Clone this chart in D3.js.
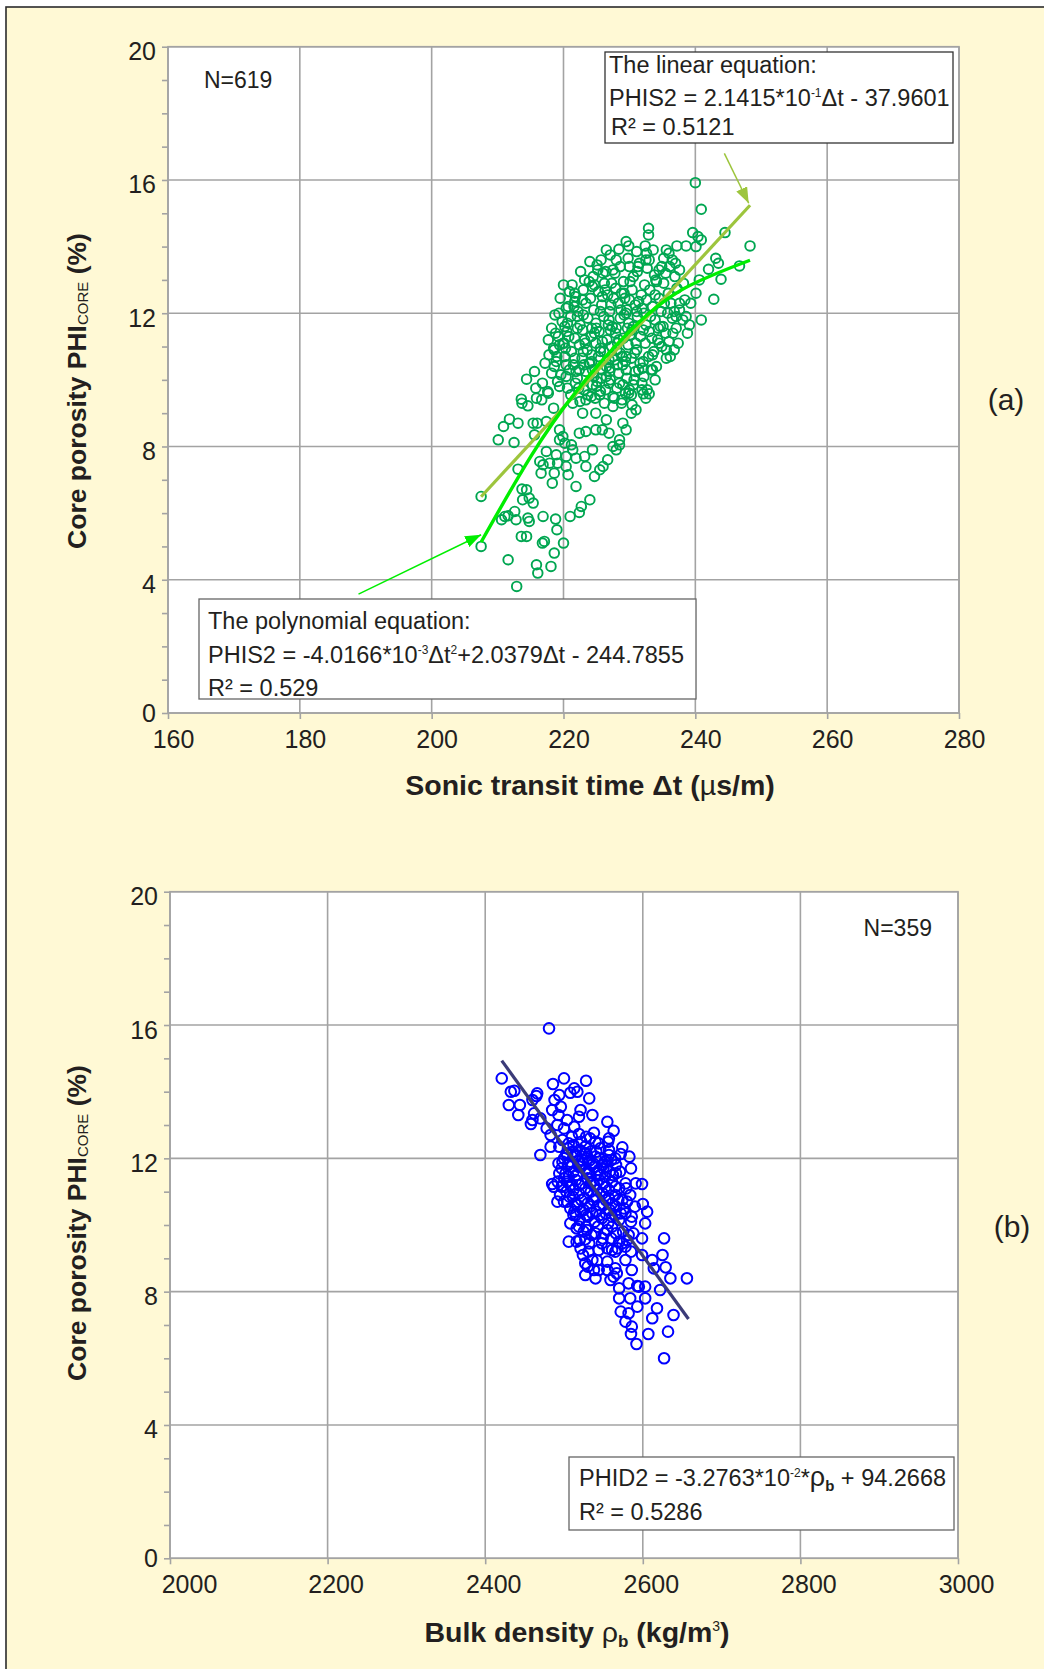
<!DOCTYPE html>
<html>
<head>
<meta charset="utf-8">
<script src="https://cdn.jsdelivr.net/npm/d3@7"></script>
<style>
body{margin:0;background:#fff;}
text{font-family:"Liberation Sans",Arial,sans-serif;fill:#231f20;}
</style>
</head>
<body>
<script>
var W = 1044, H = 1669;

// tick values
var sonicTicks = [160, 180, 200, 220, 240, 260, 280];
var densityTicks = [2000, 2200, 2400, 2600, 2800, 3000];
var porosityTicks = [0, 4, 8, 12, 16, 20];

// panel (a): sonic transit time (us/m) vs core porosity (%)
var sonicPts = [
  [240,15.92],[240.9,15.12],[232.9,14.55],[232.9,14.35],[232.4,14.02],[228.4,13.92],[229.5,14.15],[229.9,14.02],
  [232.6,13.8],[232.5,13.6],[235.6,13.9],[236,13.8],[237.2,14.02],[238.6,14.02],[239.6,14.42],[240.4,14.3],
  [240.9,14.2],[240.1,14.0],[244.5,14.42],[248.3,14.02],[246.7,13.42],[243.1,13.65],[243.5,13.5],[242,13.32],
  [243.9,13.02],[242.8,12.42],[240.6,13.0],[240.1,12.6],[240.9,11.8],[239.1,11.65],[238.8,11.4],[239.3,12.3],
  [238.6,11.9],[237.6,12.3],[237.1,11.9],[236.6,11.4],[236.8,10.9],[235.6,10.65],[236.5,13.6],[237.6,13.3],
  [236.1,13.4],[234.5,13.3],[234,13.0],[231.3,13.4],[230,13.4],[227.5,13.3],[225.2,13.3],[226,13.2],
  [223.2,13.0],[224.7,12.85],[221.7,12.6],[221.7,12.35],[220.4,12.15],[222.1,11.9],[220.6,11.7],[218.8,11.4],
  [220.1,11.1],[218.6,10.9],[218.6,10.4],[215.6,10.25],[214.4,10.02],[215.8,9.75],[217.6,9.65],[213.6,9.42],
  [233.5,10.3],[233.9,10.0],[232.7,9.7],[231.9,9.9],[230,9.7],[228.5,9.9],[227.5,9.5],[226.5,10.1],
  [225,9.8],[224.2,9.5],[231.4,10.3],[235.6,10.9],[234.5,11.1],[229.5,10.7],[227.5,10.7],[223.9,10.5],
  [222.4,10.3],[220.4,10.1],[219.4,9.8],
  [207.5,6.5],[207.5,5.0],[212.9,3.8],[211.6,4.6],[215.9,4.45],[216.1,4.2],[218.1,4.4],[218.6,4.8],
  [217.1,5.15],[216.8,5.1],[220,5.1],[219,5.5],[218.8,5.82],[216.9,5.9],[214.8,5.75],[214.6,5.85],
  [213.6,5.3],[214.4,5.3],[212.8,5.8],[211.6,5.92],[210.6,5.8],[211.1,5.9],[212.6,6.05],[214.8,6.45],
  [215.4,6.3],[213.7,6.72],[214.4,6.7],[213.8,6.4],[221,5.9],[222.4,6.02],[222.7,6.2],[224,6.4],
  [221.9,6.8],[218.3,6.9],[216.6,7.2],[213.1,7.32],[210.1,8.2],[210.9,8.6],[211.8,8.82],[213.1,8.7],
  [212.5,8.12],[213.7,9.3],[214.6,9.22],[215.4,8.7],[216,8.7],[215.9,9.45],[216.7,9.4],[217.7,9.6],
  [218.5,9.15],[215.6,8.35],[217.4,8.75],[217.4,7.85],[216.4,7.55],[216.9,7.45],[217.9,7.5],[218.9,7.75],
  [219.1,7.5],[220.4,7.4],[220.7,7.15],[218.6,7.2],[220.4,7.7],[221.4,7.9],[221.9,7.65],[223.4,7.4],
  [224.7,7.1],[225.5,7.3],[226,7.4],[226.7,7.6],[228,7.9],[228.5,8.05],[227.5,8.0],[224.4,7.9],
  [223.2,7.7],[219.4,8.2],[220.2,8.1],[221.2,8.05],[222.4,8.4],[223.4,8.45],[224.9,8.5],[225.9,8.5],
  [226.9,8.4],[228.5,8.2],[229.5,8.5],[229,8.7],[231,9.1],[230.3,9.0],[228.8,9.3],[227.5,9.2],
  [233,9.58],[232.1,9.58],[229.9,9.6],[225.5,9.55],[223.4,9.4],[222.9,9.0],[221.4,9.3],[219.4,8.5],
  [219.9,8.3],[226.5,8.8],[224.9,9.0],
  [224.5,13.1],[226.2,12.9],[227.8,13.2],[229.1,12.95],[230.6,13.1],[232.3,12.85],[233.8,13.15],[235.2,12.9],
  [228.6,13.4],[231.5,13.5],
  [221.8,12.5],[223,12.7],[224.1,12.45],[225.3,12.65],[226.7,12.55],[227.9,12.75],[229.3,12.45],[230.4,12.7],
  [231.8,12.55],[233.1,12.7],[234.5,12.45],[235.9,12.6],[237.2,12.75],
  [220.7,12.2],[222.2,12.05],[223.4,12.3],[224.6,12.1],[225.8,12.25],[227,12.05],[228.3,12.3],[229.6,12.1],
  [230.9,12.25],[232.2,12.0],[233.5,12.2],[234.8,12.05],[236.3,12.3],[237.6,12.1],
  [219.8,11.75],[221.1,11.9],[222.5,11.65],[223.7,11.85],[224.9,11.7],[226.1,11.9],[227.4,11.6],[228.6,11.85],
  [229.9,11.7],[231.2,11.9],[232.5,11.65],[233.9,11.8],[235.1,11.6],[236.5,11.85],
  [219.2,11.3],[220.5,11.45],[221.7,11.25],[222.9,11.5],[224.2,11.3],[225.4,11.45],[226.6,11.2],[227.9,11.4],
  [229.1,11.25],[230.4,11.5],[231.7,11.3],[233,11.45],[234.3,11.2],[235.5,11.4],
  [218.5,10.95],[219.9,11.1],[221.2,10.85],[222.4,11.05],[223.6,10.9],[224.9,11.1],[226.1,10.85],[227.3,11.0],
  [228.6,10.8],[229.8,11.05],[231.1,10.9],[232.4,11.1],[233.7,10.85],[234.9,11.0],
  [218.9,10.55],[220.2,10.7],[221.5,10.45],[222.8,10.65],[224,10.5],[225.3,10.7],[226.5,10.4],[227.8,10.6],
  [229,10.45],[230.3,10.65],[231.6,10.5],[232.9,10.7],[234.1,10.4],
  [219.6,10.15],[220.9,10.3],[222.1,10.05],[223.4,10.25],[224.6,10.1],[225.9,10.3],[227.1,10.0],[228.4,10.2],
  [229.6,10.05],[230.9,10.25],[232.2,10.1],[233.3,10.3],
  [220.6,9.75],[221.8,9.9],[223.1,9.7],[224.4,9.85],[225.6,9.65],[226.9,9.9],[228.1,9.75],[229.4,9.6],
  [230.6,9.85],[231.9,9.7],
  [222.5,9.35],[224.8,9.45],[226.2,9.3],[228.9,9.4],[230.4,9.25],
  [225.7,13.6],[227.1,13.75],[229.8,13.65],[233,13.6],[234.9,13.4],[236.9,13.1],[238.2,12.9],
  [225,11.55],[226.8,11.65],[228.2,11.1],[229.5,12.0],[227.6,12.45],[225.6,10.95],[230.1,11.35],[223.2,11.2],
  [226.3,12.7],[228.9,10.7],[224.3,10.75],[231.4,12.35],[227,10.35],[229.2,12.6],
  [221.3,12.85],[222.6,13.25],[223.9,12.95],[225.1,13.45],[226.4,13.25],[227.3,12.9],[228.8,12.6],[230.1,12.95],
  [231.2,13.25],[232.7,13.35],[234.1,12.95],[235.5,13.2],
  [219.5,12.45],[220.9,12.65],[222.9,12.4],[224.4,12.8],[225.9,12.5],[227.2,12.25],[228.7,12.1],[230,12.4],
  [231.1,12.05],[232.6,12.4],[233.9,12.55],[235.3,12.3],[236.8,12.05],
  [219.3,12.0],[220.2,11.6],[221.6,12.2],[223,11.95],[224.3,11.55],[225.6,12.05],[226.9,11.8],[228,11.55],
  [229.2,11.95],[230.6,11.6],[231.9,12.15],[233.2,11.9],[234.4,11.55],[235.8,12.0],[237.1,11.55],
  [218.2,11.55],[219.4,11.05],[220.8,11.3],[222.1,11.55],[223.3,11.1],[224.7,11.4],[225.9,11.15],[227.1,11.5],
  [228.4,11.2],[229.7,11.55],[231,11.1],[232.1,11.5],[233.4,11.25],[234.7,11.6],[236,11.15],
  [217.8,10.75],[219,10.7],[220.3,10.95],[221.7,10.65],[223,10.85],[224.3,10.55],[225.6,10.85],[226.9,10.6],
  [228.1,10.9],[229.4,10.55],[230.8,10.8],[232.1,10.55],[233.5,10.75],
  [218.2,10.2],[219.1,9.95],[220.4,10.45],[221.9,10.25],[223.1,10.45],[224.4,10.3],[225.7,10.05],[227,10.25],
  [228.2,10.45],[229.5,10.3],[230.7,10.0],[232,10.35],
  [221.1,9.55],[222.3,9.75],[223.7,9.55],[225.1,9.95],[226.4,9.7],[227.7,9.45],[229,9.85],[230.3,9.55],[232.5,9.45],
  [220,12.85],[218.7,11.95],[217.7,11.2],[217.2,10.5],[216.8,9.9],[236.2,10.7],[237.4,11.1],[238.1,11.8],
  [238.4,12.4],[237,13.5],[235.2,13.65],[233.6,13.9],[231.1,13.85],[228,13.6],[226.5,13.9],[224,13.55]
];
// fitted lines
var linearFitA = [[207.5, 6.49], [248.3, 15.24]];
var polyFitA = [[207.5, 5.13], [215, 7.69], [222, 9.67], [230, 11.45], [238, 12.71], [248.3, 13.59]];

// panel (b): bulk density (kg/m3) vs core porosity (%)
var densityPts = [
  [2481,15.9],[2421,14.4],[2432.5,14.0],[2437,14.03],[2430,13.6],[2444,13.6],[2442,13.3],[2460,13.75],
  [2465,13.87],[2466,13.95],[2462,13.35],[2460,13.15],[2458,13.03],[2470,12.1],[2486,14.23],[2500,14.4],
  [2513,14.1],[2517,14.0],[2528,14.33],[2532,13.8],[2508,13.97],[2494,13.9],[2485,13.45],[2496,13.55],
  [2521,13.45],[2536,13.3],[2519,13.25],[2504,13.15],[2491.6,13.0],[2500,12.9],[2513,12.95],[2483,12.7],
  [2519,12.73],[2528,12.65],[2538,12.77],[2555,13.1],[2563,12.83],[2557,12.6],[2540,12.5],[2483,12.35],
  [2494,12.35],[2506,12.45],[2574,12.33],[2572,12.13],[2583,12.05],[2585,11.7],[2557,12.25],[2555,11.95],
  [2566,11.55],[2578,11.25],[2599,11.23],[2591,11.25],[2485,11.23],[2494,11.55],[2498,11.9],[2504,12.1],
  [2515,12.05],[2528,12.15],[2540,12.05],[2519,11.75],[2532,11.55],[2544,11.65],[2506,11.45],[2552,11.45],
  [2487,11.15],[2498,11.17],[2491.6,10.7],[2504,10.7],[2513,10.4],[2515,10.3],[2508,10.05],[2519,9.95],
  [2528,9.95],[2506,9.5],[2516,9.5],[2527,9.57],[2521,9.3],[2524,9.1],[2536,8.95],[2542,8.93],
  [2530,8.75],[2538,8.65],[2544,8.65],[2527,8.5],[2540,8.4],[2555,8.65],[2559,8.35],[2563,8.45],
  [2567,8.55],[2578,8.95],[2565,9.2],[2561,9.25],[2570,9.5],[2574,9.45],[2580,9.55],[2582,9.7],
  [2540,9.75],[2549,9.6],[2561,9.95],[2570,10.15],[2578,10.35],[2586,10.25],[2603,10.05],[2605.5,10.4],
  [2600,10.63],[2599,9.6],[2627,9.6],[2599,9.1],[2612,8.95],[2625,9.1],[2629,8.73],[2635,8.4],
  [2656,8.4],[2622,8.05],[2603,8.15],[2593,8.17],[2582,8.25],[2570,8.1],[2570,7.8],[2584,7.8],
  [2603,7.8],[2593,7.55],[2618,7.5],[2639,7.3],[2612,7.2],[2572,7.4],[2582,7.35],[2578,7.1],
  [2586,6.95],[2585,6.73],[2607,6.73],[2632,6.8],[2592,6.43],[2627,6.0],[2527,8.85],[2555,8.9],
  [2565,8.7],[2586,8.65],[2614,8.7],[2531,9.2],[2544,9.25],[2578,9.35],[2595,8.15],
  [2505,12.3],[2512,12.4],[2520,12.25],[2527,12.35],[2534,12.2],[2546,12.3],
  [2500,12.0],[2508,11.9],[2515,12.1],[2523,11.95],[2530,12.0],[2537,11.85],[2545,12.0],[2552,11.9],[2560,11.95],
  [2497,11.7],[2505,11.8],[2512,11.6],[2520,11.75],[2527,11.65],[2535,11.8],[2542,11.55],[2550,11.7],[2558,11.6],[2566,11.8],
  [2492,11.3],[2500,11.4],[2508,11.2],[2515,11.35],[2523,11.25],[2530,11.4],[2538,11.2],[2545,11.35],[2553,11.15],[2561,11.3],[2570,11.1],
  [2495,10.9],[2503,11.0],[2511,10.85],[2519,10.95],[2526,10.8],[2534,11.0],[2541,10.85],[2549,10.95],[2557,10.8],[2565,10.9],[2574,10.75],[2584,10.9],
  [2508,10.5],[2517,10.6],[2525,10.45],[2533,10.55],[2541,10.4],[2550,10.6],[2558,10.45],[2566,10.55],[2576,10.5],[2590,10.55],
  [2520,10.15],[2530,10.25],[2539,10.1],[2548,10.2],[2556,10.05],[2565,10.3],[2585,10.1],
  [2525,9.8],[2535,9.7],[2555,9.85],[2560,9.6],[2575,9.8],
  [2470,13.2],[2478,12.9],[2488,13.75],[2493,13.3],
  [2498,12.55],[2510,12.65],[2522,12.5],[2533,12.6],[2544,12.45],[2556,12.5],
  [2503,12.15],[2511,12.2],[2518,11.9],[2526,12.15],[2533,11.95],[2541,12.2],[2549,11.8],[2557,12.1],[2565,12.0],
  [2493,11.85],[2502,11.55],[2509,11.75],[2516,11.5],[2524,11.85],[2531,11.6],[2539,11.75],[2546,11.5],[2554,11.75],[2562,11.5],[2571,11.6],
  [2497,11.15],[2504,11.3],[2512,11.05],[2519,11.2],[2527,11.1],[2534,11.25],[2542,11.05],[2550,11.25],[2557,11.05],[2565,11.15],[2579,11.1],
  [2500,10.7],[2507,10.85],[2514,10.65],[2522,10.75],[2530,10.65],[2537,10.75],[2545,10.6],[2553,10.75],[2561,10.65],[2569,10.75],[2580,10.7],
  [2512,10.3],[2521,10.4],[2528,10.3],[2536,10.35],[2545,10.3],[2553,10.35],[2561,10.25],[2572,10.35],
  [2516,9.9],[2529,9.85],[2543,9.95],[2551,9.75],[2566,9.75],[2588,9.75],
  [2520,9.55],[2532,9.45],[2548,9.45],[2555,9.3],[2568,9.3],[2585,9.2]
];
var linearFitB = [[2421, 14.93], [2658, 7.18]];

var svg = d3.select("body").append("svg")
  .attr("width", W).attr("height", H);

// yellow page frame
svg.append("rect")
  .attr("x", 6).attr("y", 7).attr("width", W + 10).attr("height", H + 10)
  .attr("fill", "#fff9d5").attr("stroke", "#2b2b2b").attr("stroke-width", 1.6);

var defs = svg.append("defs");
function marker(id, col) {
  defs.append("marker").attr("id", id)
    .attr("markerUnits", "userSpaceOnUse")
    .attr("viewBox", "0 0 16 12")
    .attr("markerWidth", 16).attr("markerHeight", 12)
    .attr("refX", 16).attr("refY", 6).attr("orient", "auto")
    .append("path").attr("d", "M0,0L16,6L0,12Z").attr("fill", col);
}
marker("arrLin", "#9dc53d");
marker("arrPoly", "#00ee00");

var gridCol = "#a3a3a3";

function panel(o) {
  var g = svg.append("g");
  var x = o.x, y = o.y;
  var x0 = x.range()[0], x1 = x.range()[1], y0 = y.range()[0], y1 = y.range()[1];

  g.append("rect").attr("x", x0).attr("y", y1)
    .attr("width", x1 - x0).attr("height", y0 - y1)
    .attr("fill", "#fff").attr("stroke", gridCol).attr("stroke-width", 1.6);

  g.selectAll(".vg").data(o.xTicks).enter().append("line")
    .attr("x1", d => x(d)).attr("x2", d => x(d))
    .attr("y1", y0).attr("y2", y1)
    .attr("stroke", gridCol).attr("stroke-width", 1.6);
  g.selectAll(".hg").data(porosityTicks).enter().append("line")
    .attr("x1", x0).attr("x2", x1)
    .attr("y1", d => y(d)).attr("y2", d => y(d))
    .attr("stroke", gridCol).attr("stroke-width", 1.6);

  // y axis: minor every 1 %, labels every 4 %
  var ya = g.append("g").attr("transform", "translate(" + x0 + ",0)")
    .call(d3.axisLeft(y).tickValues(d3.range(0, 21)).tickSize(6).tickPadding(6)
      .tickFormat(d => porosityTicks.indexOf(d) >= 0 ? d : ""));
  ya.select(".domain").remove();
  ya.selectAll("line").attr("stroke", gridCol).attr("stroke-width", 1.6);
  ya.selectAll("text").attr("dy", d => d === 0 ? "0.32em" : "0.52em").style("font-size", "25px")
    .style("font-family", '"Liberation Sans",Arial,sans-serif').attr("fill", "#111");

  var xa = g.append("g").attr("transform", "translate(0," + y0 + ")")
    .call(d3.axisBottom(x).tickValues(o.xTicks).tickSize(6).tickFormat(d3.format("d")));
  xa.select(".domain").remove();
  xa.selectAll("line").attr("stroke", gridCol).attr("stroke-width", 1.6);
  xa.selectAll("text").attr("y", 35).attr("dy", 0)
    .attr("dx", (d, i) => o.labelDx + (i === 0 ? o.firstDx : 0))
    .style("font-size", "25px")
    .style("font-family", '"Liberation Sans",Arial,sans-serif').attr("fill", "#111");

  return g;
}

// ---------- panel (a)
var xA = d3.scaleLinear().domain([160, 280]).range([168, 959]);
var yA = d3.scaleLinear().domain([0, 20]).range([713, 46.7]);
var gA = panel({x: xA, y: yA, xTicks: sonicTicks, labelDx: 5, firstDx: 0});

gA.selectAll(".pt").data(sonicPts).enter().append("circle")
  .attr("cx", d => xA(d[0])).attr("cy", d => yA(d[1])).attr("r", 4.8)
  .attr("fill", "none").attr("stroke", "#00a651").attr("stroke-width", 1.9);

var lineA = d3.line().x(d => xA(d[0])).y(d => yA(d[1]));
gA.append("path").attr("d", lineA(linearFitA))
  .attr("fill", "none").attr("stroke", "#9dc53d").attr("stroke-width", 3.2);
gA.append("path").attr("d", lineA.curve(d3.curveNatural)(polyFitA))
  .attr("fill", "none").attr("stroke", "#00ee00").attr("stroke-width", 3.4);

// arrows pointing to the fits
gA.append("line")
  .attr("x1", xA(244.4)).attr("y1", yA(16.8)).attr("x2", xA(248.1)).attr("y2", yA(15.3))
  .attr("stroke", "#9dc53d").attr("stroke-width", 1.5).attr("marker-end", "url(#arrLin)");
gA.append("line")
  .attr("x1", xA(188.9)).attr("y1", yA(3.57)).attr("x2", xA(207.5)).attr("y2", yA(5.35))
  .attr("stroke", "#00ee00").attr("stroke-width", 1.5).attr("marker-end", "url(#arrPoly)");

gA.append("text").attr("x", 204).attr("y", 88).style("font-size", "23px").text("N=619");

// linear equation box
gA.append("rect").attr("x", 605).attr("y", 52).attr("width", 348).attr("height", 91)
  .attr("fill", "#fff").attr("stroke", "#333").attr("stroke-width", 1.3);
gA.append("text").attr("x", 609).attr("y", 73).style("font-size", "23.5px").text("The linear equation:");
var tl = gA.append("text").attr("x", 609).attr("y", 106).style("font-size", "23.5px");
tl.append("tspan").text("PHIS2 = 2.1415*10");
tl.append("tspan").attr("dy", -9).style("font-size", "12px").text("-1");
tl.append("tspan").attr("dy", 9).text("\u0394t - 37.9601");
gA.append("text").attr("x", 611).attr("y", 135).style("font-size", "23.5px").text("R\u00b2 = 0.5121");

// polynomial equation box
gA.append("rect").attr("x", 199).attr("y", 599).attr("width", 497).attr("height", 100)
  .attr("fill", "#fff").attr("stroke", "#666").attr("stroke-width", 1.3);
gA.append("text").attr("x", 208).attr("y", 629).style("font-size", "23.5px").text("The polynomial equation:");
var tp = gA.append("text").attr("x", 208).attr("y", 663).style("font-size", "23.5px");
tp.append("tspan").text("PHIS2 = -4.0166*10");
tp.append("tspan").attr("dy", -9).style("font-size", "12px").text("-3");
tp.append("tspan").attr("dy", 9).text("\u0394t");
tp.append("tspan").attr("dy", -9).style("font-size", "12px").text("2");
tp.append("tspan").attr("dy", 9).text("+2.0379\u0394t - 244.7855");
gA.append("text").attr("x", 208).attr("y", 696).style("font-size", "23.5px").text("R\u00b2 = 0.529");

// axis titles (a)
var tA = svg.append("text").attr("x", 590).attr("y", 795).attr("text-anchor", "middle")
  .style("font-size", "28.5px").style("font-weight", "bold");
tA.append("tspan").text("Sonic transit time \u0394t (");
tA.append("tspan").style("font-weight", "normal").text("\u00b5");
tA.append("tspan").text("s/m)");

function yTitle(cy) {
  var t = svg.append("text").attr("transform", "translate(86," + cy + ") rotate(-90)")
    .attr("text-anchor", "middle").style("font-size", "26.5px").style("font-weight", "bold");
  t.append("tspan").text("Core porosity PHI");
  t.append("tspan").attr("dy", 2).style("font-size", "15px").style("font-weight", "normal").text("CORE");
  t.append("tspan").attr("dy", -2).text(" (%)");
}
yTitle(391);

svg.append("text").attr("x", 1006).attr("y", 410).attr("text-anchor", "middle")
  .style("font-size", "30px").text("(a)");

// ---------- panel (b)
var xB = d3.scaleLinear().domain([2000, 3000]).range([170, 958]);
var yB = d3.scaleLinear().domain([0, 20]).range([1558.3, 891.7]);
var gB = panel({x: xB, y: yB, xTicks: densityTicks, labelDx: 8, firstDx: 11});

gB.selectAll(".pt").data(densityPts).enter().append("circle")
  .attr("cx", d => xB(d[0])).attr("cy", d => yB(d[1])).attr("r", 5.3)
  .attr("fill", "none").attr("stroke", "#0000ff").attr("stroke-width", 2);

var lineB = d3.line().x(d => xB(d[0])).y(d => yB(d[1]));
gB.append("path").attr("d", lineB(linearFitB))
  .attr("fill", "none").attr("stroke", "#3b3b78").attr("stroke-width", 3.2);

gB.append("text").attr("x", 932).attr("y", 936).attr("text-anchor", "end")
  .style("font-size", "23px").text("N=359");

gB.append("rect").attr("x", 569).attr("y", 1457).attr("width", 385).attr("height", 73)
  .attr("fill", "#fff").attr("stroke", "#666").attr("stroke-width", 1.3);
var tb = gB.append("text").attr("x", 579).attr("y", 1486).style("font-size", "23.5px");
tb.append("tspan").text("PHID2 = -3.2763*10");
tb.append("tspan").attr("dy", -9).style("font-size", "12px").text("-2");
tb.append("tspan").attr("dy", 9).text("*");
tb.append("tspan").style("font-size", "27px").text("\u03c1");
tb.append("tspan").attr("dy", 5).style("font-size", "15px").style("font-weight", "bold").text("b");
tb.append("tspan").attr("dy", -5).text(" + 94.2668");
gB.append("text").attr("x", 579).attr("y", 1520).style("font-size", "23.5px").text("R\u00b2 = 0.5286");

var tB = svg.append("text").attr("x", 577).attr("y", 1642).attr("text-anchor", "middle")
  .style("font-size", "28.5px").style("font-weight", "bold");
tB.append("tspan").text("Bulk density ");
tB.append("tspan").style("font-weight", "normal").text("\u03c1");
tB.append("tspan").attr("dy", 5).style("font-size", "17px").text("b");
tB.append("tspan").attr("dy", -5).text(" (kg/m");
tB.append("tspan").attr("dy", -11).style("font-size", "14px").style("font-weight", "normal").text("3");
tB.append("tspan").attr("dy", 11).text(")");

yTitle(1223);

svg.append("text").attr("x", 1012).attr("y", 1237).attr("text-anchor", "middle")
  .style("font-size", "30px").text("(b)");
</script>
</body>
</html>
